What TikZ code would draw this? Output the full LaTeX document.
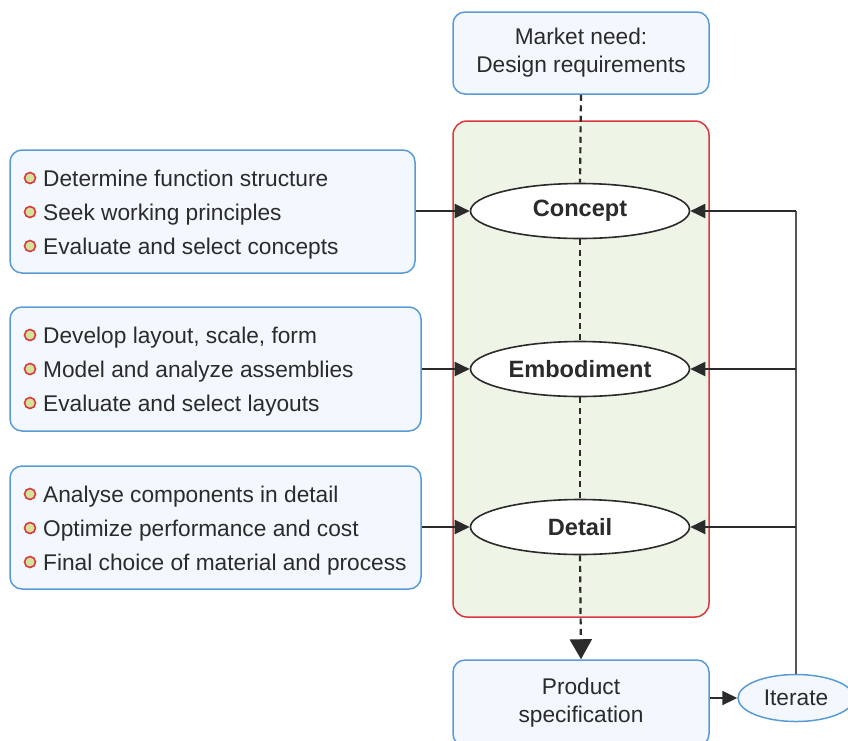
\documentclass[tikz,border=0pt]{standalone}
\usepackage{fontspec}
\setmainfont{Liberation Sans}
\usetikzlibrary{arrows.meta,shapes.geometric}
\definecolor{bblue}{HTML}{5B9BD5}
\definecolor{bfill}{HTML}{F2F8FD}
\definecolor{gfill}{HTML}{EEF4E6}
\definecolor{rborder}{HTML}{D9383E}
\definecolor{txt}{HTML}{2B2B2B}
\definecolor{bul}{HTML}{D5E29A}
\begin{document}
\begin{tikzpicture}[x=1pt,y=-1pt,
  bluebox/.style={draw=bblue,fill=bfill,line width=1.5pt,rounded corners=12pt,inner sep=0pt,
    font=\fontsize{22.7}{28}\selectfont,text=txt,align=center},
  panel/.style={draw=rborder,fill=gfill,line width=1.5pt,rounded corners=14pt,inner sep=0pt},
  phase/.style={ellipse,draw=txt,fill=white,line width=1.6pt,minimum width=219pt,minimum height=55pt,
    inner sep=0pt,font=\fontsize{23.6}{28}\selectfont\bfseries,text=txt},
  item/.style={anchor=base west,inner sep=0pt,font=\fontsize{22.7}{28}\selectfont,text=txt},
  bulletdot/.style={circle,draw=rborder,fill=bul,line width=1.6pt,minimum size=11pt,inner sep=0pt},
  arr/.style={-{Triangle[length=15pt,width=14pt]},line width=2pt,draw=txt},
  dashline/.style={dash pattern=on 6pt off 4.5pt,line width=2.2pt,draw=txt},
  fbline/.style={line width=1.4pt,draw=txt!80}
]
\useasboundingbox (0,0) rectangle (848,740);

% central column
\node[panel,minimum width=256pt,minimum height=496pt] (panel) at (581,369) {};
\node[bluebox,minimum width=256pt,minimum height=82pt] (market) at (581,53) {Market need:\\Design requirements};
\node[bluebox,minimum width=256pt,minimum height=86pt] (prod) at (581,703) {Product\\specification};
\node[ellipse,draw=bblue,fill=bfill,line width=1.5pt,minimum width=116pt,minimum height=47pt,inner sep=0pt,
  font=\fontsize{22.7}{28}\selectfont,text=txt] (iter) at (796,698) {Iterate};

\node[phase] (concept) at (580,211) {Concept};
\node[phase] (embod) at (580,369) {Embodiment};
\node[phase] (detail) at (580,527) {Detail};

% left boxes
\node[bluebox,minimum width=405pt,minimum height=123pt] (b1) at (212.5,211.5) {};
\node[bluebox,minimum width=411pt,minimum height=124pt] (b2) at (215.5,369) {};
\node[bluebox,minimum width=411pt,minimum height=123pt] (b3) at (215.5,527.5) {};

% bullet items
\node[bulletdot] (d11) at (30,178) {}; \node[item] (t11) at (43,186) {Determine function structure};
\node[bulletdot] (d12) at (30,212) {}; \node[item] (t12) at (43,220) {Seek working principles};
\node[bulletdot] (d13) at (30,246) {}; \node[item] (t13) at (43,254) {Evaluate and select concepts};

\node[bulletdot] (d21) at (30,335) {}; \node[item] (t21) at (43,343) {Develop layout, scale, form};
\node[bulletdot] (d22) at (30,369) {}; \node[item] (t22) at (43,377) {Model and analyze assemblies};
\node[bulletdot] (d23) at (30,403) {}; \node[item] (t23) at (43,411) {Evaluate and select layouts};

\node[bulletdot] (d31) at (30,494) {}; \node[item] (t31) at (43,502) {Analyse components in detail};
\node[bulletdot] (d32) at (30,528) {}; \node[item] (t32) at (43,536) {Optimize performance and cost};
\node[bulletdot] (d33) at (30,562) {}; \node[item] (t33) at (43,570) {Final choice of material and process};

% dashed spine
\draw[dashline] (market.south) -- (concept.north);
\draw[dashline] (concept.south) -- (embod.north);
\draw[dashline] (embod.south) -- (detail.north);
\draw[dashline,-{Triangle[length=20pt,width=22pt]}] (detail.south) -- (prod.north);

% left inputs
\draw[arr] (b1.east |- concept.west) -- (concept.west);
\draw[arr] (b2.east |- embod.west) -- (embod.west);
\draw[arr] (b3.east |- detail.west) -- (detail.west);

% iterate loop
\draw[arr] (prod.east |- iter.west) -- (iter.west);
\coordinate (fb) at (796,211);
\draw[fbline] (iter.north) -- (fb);
\draw[arr] (fb) -- (concept.east);
\draw[arr] (iter.north |- embod.east) -- (embod.east);
\draw[arr] (iter.north |- detail.east) -- (detail.east);
\end{tikzpicture}
\end{document}
